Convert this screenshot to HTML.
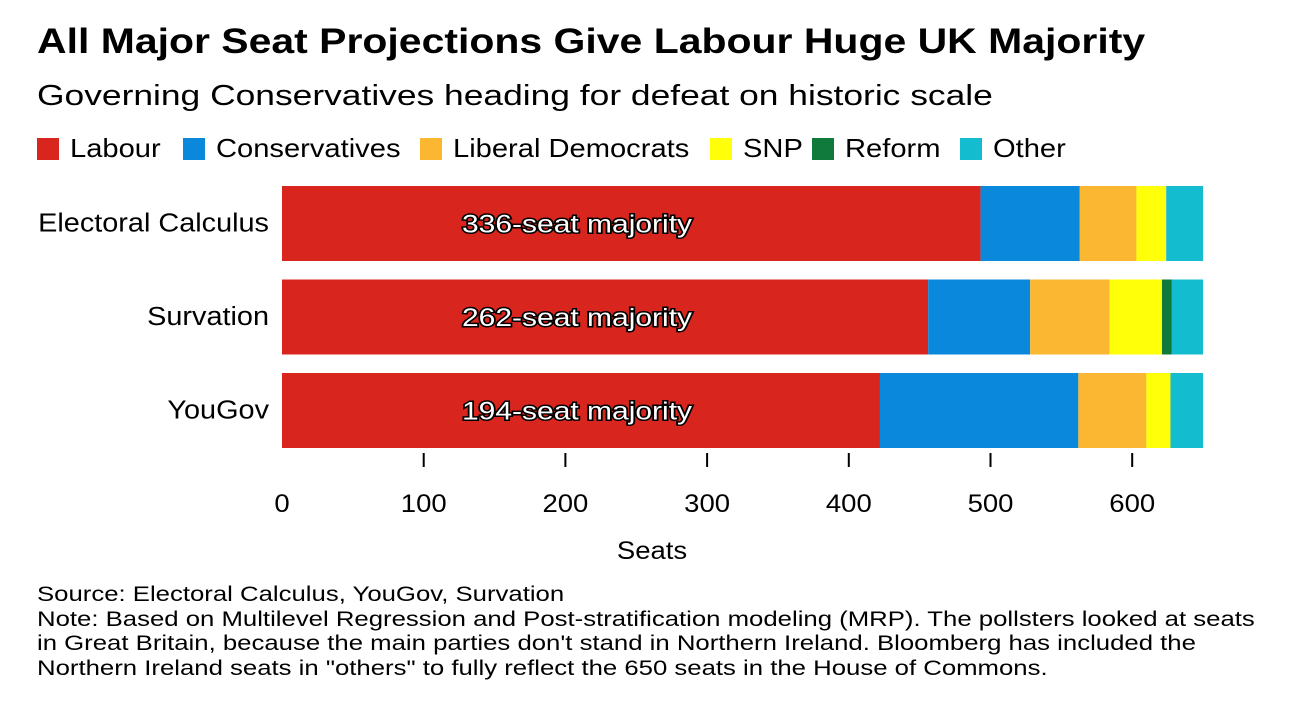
<!DOCTYPE html>
<html><head><meta charset="utf-8">
<style>
body{margin:0;background:#fff;font-family:"Liberation Sans",sans-serif;}
#wrap{position:relative;width:1292px;height:710px;overflow:hidden;}
.t{position:absolute;white-space:nowrap;color:#000;transform-origin:0 0;}
.le{position:absolute;top:133px;font-size:26px;display:flex;align-items:center;white-space:nowrap}
.le span.sw{display:inline-block;width:22px;height:22px;margin-right:11px}
.le span.tx{display:inline-block;transform:scaleX(1.12);transform-origin:0 50%}
</style></head><body>
<div id="wrap">
<div class="t" style="left:37px;top:22px;font-size:35px;font-weight:bold;transform:scaleX(1.17)">All Major Seat Projections Give Labour Huge UK Majority</div>
<div class="t" style="left:37px;top:80px;font-size:29px;transform:scaleX(1.22)">Governing Conservatives heading for defeat on historic scale</div>
<div id="legend"></div>
<svg id="svg" width="1292" height="600" style="position:absolute;left:0;top:0"></svg>
<div class="t" style="left:37px;top:583px;font-size:21px;line-height:24.5px;transform:scaleX(1.225)">Source: Electoral Calculus, YouGov, Survation<br>Note: Based on Multilevel Regression and Post-stratification modeling (MRP). The pollsters looked at seats<br>in Great Britain, because the main parties don't stand in Northern Ireland. Bloomberg has included the<br>Northern Ireland seats in "others" to fully reflect the 650 seats in the House of Commons.</div>
</div>
<script>
const categories=["Electoral Calculus","Survation","YouGov"];
const parties=["Labour","Conservatives","Liberal Democrats","SNP","Reform","Other"];
const colors=["#d8261f","#0a88dc","#fbb731","#ffff0a","#0f7a3b","#13bccf"];
const labour=[493,456,422];
const conservatives=[70,72,140];
const libdems=[40,56,48];
const snp=[21,37,17];
const reform=[0,7,0];
const other=[26,22,23];
const majorities=["336-seat majority","262-seat majority","194-seat majority"];
const ticks=[0,100,200,300,400,500,600];
const series=[labour,conservatives,libdems,snp,reform,other];
const legendX=[37,183,420,710,812,960];
const NS="http://www.w3.org/2000/svg";
const svg=document.getElementById('svg');
const x=v=>282+v*1.417;
const yTop=i=>186+i*93.5;
const bh=75;
function mk(tag,attrs){const e=document.createElementNS(NS,tag);for(const k in attrs)e.setAttribute(k,attrs[k]);svg.appendChild(e);return e;}
categories.forEach((c,i)=>{
  let acc=0;
  series.forEach((s,j)=>{
    const r=mk('rect',{x:x(acc),y:yTop(i),width:Math.max(0,x(acc+s[i])-x(acc)),height:bh,fill:colors[j]});
    
    
    acc+=s[i];
  });
  const l=mk('text',{x:0,y:0,'text-anchor':'end','font-size':26,transform:'translate(269,'+(yTop(i)+bh/2+8)+') scale(1.11,1)'});
  l.textContent=c;
  
  
  const m=mk('text',{x:0,y:0,'text-anchor':'middle','font-size':25,fill:'#fff',stroke:'#000','stroke-width':3,'paint-order':'stroke',transform:'translate(577,'+(yTop(i)+bh/2+9)+') scale(1.2,1)'});
  m.textContent=majorities[i];
  
  
});
ticks.forEach(t=>{
  if(t>0){const tk=mk('line',{x1:x(t),x2:x(t),y1:453,y2:467,stroke:'#000','stroke-width':2});
  
  }
  const tl=mk('text',{x:0,y:0,'text-anchor':'middle','font-size':25,transform:'translate('+x(t)+',512) scale(1.1,1)'});
  tl.textContent=t;
  
  
});
const at=mk('text',{x:0,y:0,'text-anchor':'middle','font-size':25,transform:'translate(652,559) scale(1.1,1)'});
at.textContent='Seats';


const lg=document.getElementById('legend');
parties.forEach((p,j)=>{
  const d=document.createElement('div');
  
  
  d.className='le';
  d.style.left=legendX[j]+'px';
  d.innerHTML='<span class="sw" style="background:'+colors[j]+'"></span><span class="tx">'+p+'</span>';
  lg.appendChild(d);
});
</script>
</body></html>
